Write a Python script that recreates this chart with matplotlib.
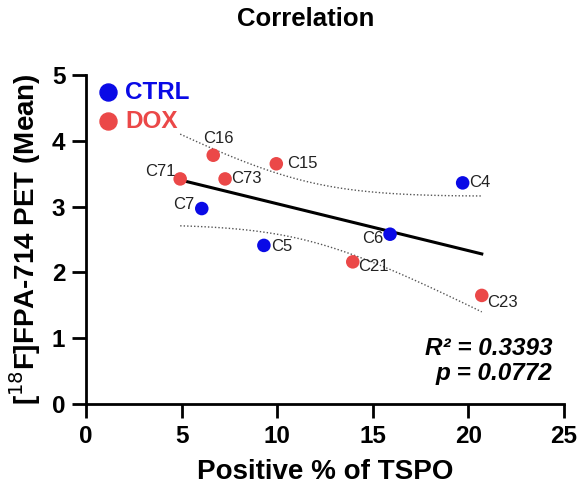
import matplotlib
matplotlib.use("Agg")
import matplotlib.pyplot as plt
import numpy as np

plt.rcParams["font.family"] = ["Liberation Sans", "DejaVu Sans"]

# data
ctrl_names = ["C4", "C5", "C6", "C7"]
ctrl_x = [19.7, 9.3, 15.9, 6.05]
ctrl_y = [3.36, 2.41, 2.58, 2.97]

dox_names = ["C15", "C16", "C21", "C23", "C71", "C73"]
dox_x = [9.95, 6.65, 13.95, 20.7, 4.92, 7.27]
dox_y = [3.65, 3.78, 2.16, 1.65, 3.42, 3.42]

# label offsets in points (dx, dy, ha, va)
label_pos = {
    "C4": (5, 0, "left", "center"),
    "C5": (5, -1, "left", "center"),
    "C6": (-5, -3, "right", "center"),
    "C7": (-5, 3, "right", "center"),
    "C15": (8, 0, "left", "center"),
    "C16": (4, 7, "center", "bottom"),
    "C21": (4, -3, "left", "center"),
    "C23": (4, -5, "left", "center"),
    "C71": (-3, 5, "right", "center"),
    "C73": (4, 0, "left", "center"),
}

blue = "#0a0ae6"
red = "#eb4848"

fig = plt.figure(figsize=(5.82, 4.93), dpi=100)
ax = fig.add_axes([0.148, 0.1805, 0.821, 0.6675])

# linear fit with 95% confidence band
all_x = np.array(ctrl_x + dox_x)
all_y = np.array(ctrl_y + dox_y)
n = len(all_x)
slope, icpt = np.polyfit(all_x, all_y, 1)
xs = np.linspace(all_x.min(), all_x.max(), 100)
fit = slope * xs + icpt
resid = all_y - (slope * all_x + icpt)
s = np.sqrt(np.sum(resid ** 2) / (n - 2))
t = 2.306
se = s * np.sqrt(1 / n + (xs - all_x.mean()) ** 2 / np.sum((all_x - all_x.mean()) ** 2))
ax.plot(xs, fit, color="black", lw=2.2, zorder=2)
ax.plot(xs, fit + t * se, color="#555555", lw=1, ls=(0, (1, 1.5)), zorder=1)
ax.plot(xs, fit - t * se, color="#555555", lw=1, ls=(0, (1, 1.5)), zorder=1)

ax.scatter(ctrl_x, ctrl_y, s=95, color=blue, zorder=3, edgecolors="none")
ax.scatter(dox_x, dox_y, s=95, color=red, zorder=3, edgecolors="none")

for names, xv, yv in [(ctrl_names, ctrl_x, ctrl_y), (dox_names, dox_x, dox_y)]:
    for nm, xx, yy in zip(names, xv, yv):
        dx, dy, ha, va = label_pos[nm]
        ax.annotate(nm, (xx, yy), xytext=(dx, dy), textcoords="offset points",
                    ha=ha, va=va, fontsize=12, color="#222222")

# legend
ax.scatter([1.15], [4.74], s=150, color=blue, clip_on=False, zorder=3)
ax.text(2.05, 4.74, "CTRL", color=blue, fontsize=17.5, fontweight="bold", va="center")
ax.scatter([1.15], [4.30], s=150, color=red, clip_on=False, zorder=3)
ax.text(2.05, 4.30, "DOX", color=red, fontsize=17.5, fontweight="bold", va="center")

ax.text(24.4, 0.84, "R\u00b2 = 0.3393", ha="right", va="center",
        fontsize=17.5, fontweight="bold", fontstyle="italic")
ax.text(24.4, 0.46, "p = 0.0772", ha="right", va="center",
        fontsize=17.5, fontweight="bold", fontstyle="italic")

ax.set_xlim(0, 25)
ax.set_ylim(0, 5)
ax.set_xticks([0, 5, 10, 15, 20, 25])
ax.set_yticks([0, 1, 2, 3, 4, 5])
for sp in ["top", "right"]:
    ax.spines[sp].set_visible(False)
for sp in ["left", "bottom"]:
    ax.spines[sp].set_linewidth(2)
ax.tick_params(direction="out", length=10, width=2, labelsize=17.5, pad=5)
for lab in ax.get_xticklabels() + ax.get_yticklabels():
    lab.set_fontweight("bold")

ax.set_xlabel("Positive % of TSPO", fontsize=20, fontweight="bold", labelpad=8)
ax.set_ylabel("[$^{18}$F]FPA-714 PET (Mean)", fontsize=20, fontweight="bold", labelpad=6)
fig.suptitle("Correlation", x=0.525, y=0.985, fontsize=18.5, fontweight="bold")

fig.savefig("out.png", dpi=100)
